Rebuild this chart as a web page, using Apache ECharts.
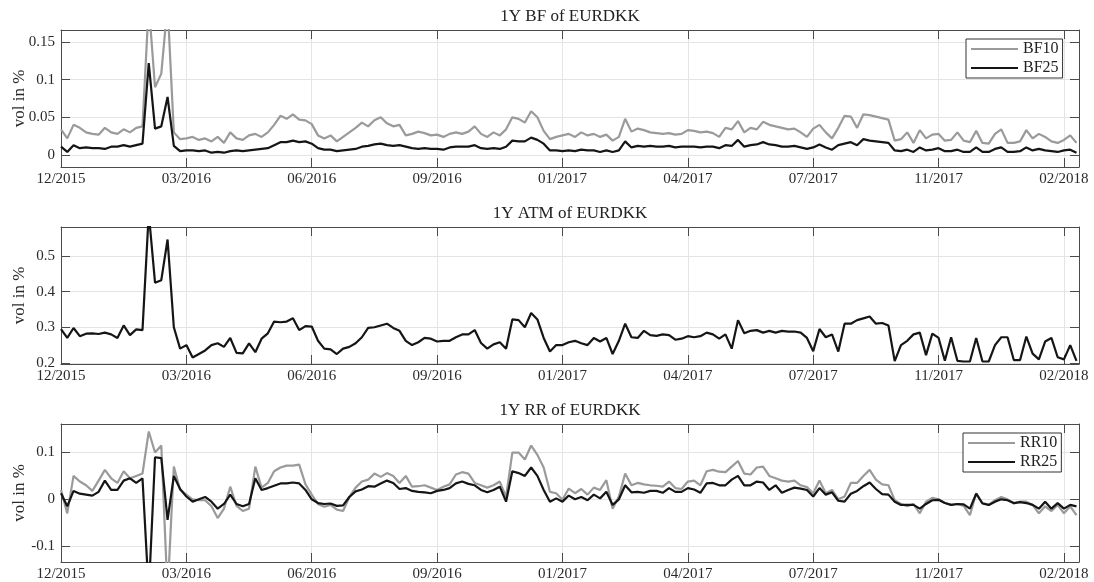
<!DOCTYPE html>
<html>
<head>
<meta charset="utf-8">
<script src="https://cdn.jsdelivr.net/npm/echarts@6/dist/echarts.min.js"></script>
<style>
  html, body { margin: 0; padding: 0; background: #ffffff; }
  #chart { width: 1094px; height: 582px; }
</style>
</head>
<body>
<div id="chart"></div>
<script>
// Date labels placed every 20 observations along the shared time index
const tickLabels = ['12/2015', '03/2016', '06/2016', '09/2016', '01/2017', '04/2017', '07/2017', '11/2017', '02/2018'];

// 1Y butterfly vols (vol in %)
const bf10 = [
  0.034,0.022,0.040,0.036,0.030,0.028,0.027,0.036,0.030,0.028,
  0.034,0.030,0.036,0.038,0.200,0.090,0.108,0.200,0.030,0.021,
  0.022,0.024,0.020,0.022,0.018,0.024,0.016,0.030,0.022,0.020,
  0.026,0.028,0.024,0.030,0.040,0.052,0.048,0.054,0.047,0.046,
  0.041,0.026,0.022,0.026,0.018,0.024,0.030,0.036,0.043,0.038,
  0.046,0.050,0.042,0.038,0.040,0.026,0.028,0.031,0.029,0.026,
  0.027,0.024,0.028,0.030,0.028,0.031,0.038,0.028,0.024,0.030,
  0.026,0.034,0.050,0.048,0.043,0.058,0.050,0.032,0.021,0.024,
  0.026,0.028,0.024,0.030,0.026,0.028,0.024,0.027,0.019,0.024,
  0.048,0.031,0.035,0.033,0.030,0.029,0.028,0.029,0.027,0.028,
  0.033,0.032,0.030,0.031,0.029,0.024,0.036,0.034,0.045,0.030,
  0.036,0.034,0.044,0.040,0.038,0.036,0.034,0.035,0.030,0.024,
  0.035,0.040,0.030,0.022,0.036,0.052,0.051,0.036,0.054,0.053,
  0.051,0.049,0.047,0.019,0.021,0.030,0.016,0.033,0.022,0.027,
  0.028,0.019,0.020,0.030,0.019,0.017,0.032,0.016,0.015,0.028,
  0.034,0.016,0.016,0.018,0.033,0.022,0.028,0.024,0.018,0.016,
  0.020,0.026,0.016
];
const bf25 = [
  0.011,0.004,0.013,0.009,0.010,0.009,0.009,0.008,0.011,0.011,
  0.013,0.011,0.013,0.015,0.122,0.035,0.038,0.077,0.012,0.005,
  0.006,0.006,0.005,0.006,0.003,0.004,0.003,0.005,0.006,0.005,
  0.006,0.007,0.008,0.009,0.013,0.017,0.017,0.019,0.017,0.018,
  0.015,0.009,0.007,0.007,0.005,0.006,0.007,0.008,0.011,0.012,
  0.014,0.015,0.013,0.012,0.013,0.011,0.009,0.008,0.009,0.008,
  0.008,0.007,0.010,0.011,0.011,0.011,0.013,0.009,0.008,0.009,
  0.008,0.011,0.019,0.018,0.018,0.023,0.020,0.015,0.006,0.006,
  0.005,0.006,0.005,0.007,0.006,0.006,0.004,0.006,0.004,0.006,
  0.018,0.010,0.012,0.011,0.012,0.011,0.011,0.012,0.010,0.011,
  0.011,0.011,0.010,0.011,0.011,0.009,0.013,0.012,0.020,0.011,
  0.013,0.014,0.017,0.014,0.013,0.011,0.011,0.012,0.010,0.008,
  0.010,0.014,0.010,0.007,0.013,0.015,0.017,0.013,0.021,0.019,
  0.018,0.017,0.016,0.006,0.005,0.007,0.004,0.010,0.006,0.007,
  0.009,0.005,0.005,0.007,0.004,0.004,0.010,0.004,0.004,0.008,
  0.010,0.004,0.004,0.005,0.010,0.006,0.008,0.006,0.005,0.004,
  0.006,0.007,0.003
];

// 1Y at-the-money vol (vol in %)
const atm = [
  0.295,0.270,0.298,0.275,0.282,0.283,0.281,0.285,0.280,0.270,
  0.305,0.278,0.294,0.292,0.620,0.425,0.432,0.546,0.300,0.240,
  0.250,0.215,0.225,0.235,0.250,0.255,0.245,0.270,0.228,0.227,
  0.255,0.230,0.268,0.283,0.316,0.314,0.316,0.325,0.292,0.303,
  0.302,0.262,0.240,0.238,0.225,0.240,0.245,0.255,0.272,0.298,
  0.300,0.305,0.310,0.298,0.290,0.262,0.250,0.258,0.270,0.268,
  0.260,0.262,0.262,0.272,0.280,0.280,0.292,0.256,0.240,0.252,
  0.258,0.240,0.322,0.320,0.300,0.340,0.322,0.270,0.232,0.250,
  0.250,0.258,0.262,0.255,0.250,0.270,0.260,0.270,0.225,0.262,
  0.310,0.272,0.270,0.290,0.278,0.276,0.280,0.278,0.265,0.268,
  0.275,0.272,0.275,0.285,0.280,0.268,0.280,0.240,0.320,0.283,
  0.290,0.292,0.285,0.290,0.285,0.290,0.288,0.288,0.285,0.270,
  0.233,0.295,0.272,0.280,0.232,0.310,0.310,0.320,0.325,0.330,
  0.310,0.312,0.305,0.205,0.250,0.262,0.280,0.285,0.222,0.282,
  0.270,0.206,0.272,0.206,0.204,0.204,0.270,0.204,0.204,0.250,
  0.272,0.272,0.208,0.208,0.274,0.226,0.210,0.260,0.270,0.216,
  0.210,0.250,0.206
];

// 1Y risk reversals (vol in %)
const rr10 = [
  0.020,-0.030,0.050,0.038,0.030,0.018,0.040,0.063,0.045,0.035,
  0.060,0.045,0.050,0.055,0.145,0.100,0.115,-0.200,0.070,0.020,
  0.010,0.000,-0.002,-0.002,-0.015,-0.040,-0.020,0.027,-0.014,-0.025,
  -0.020,0.070,0.025,0.035,0.060,0.068,0.072,0.072,0.074,0.032,
  0.010,-0.010,-0.016,-0.012,-0.022,-0.025,0.005,0.025,0.038,0.042,
  0.055,0.048,0.056,0.050,0.035,0.050,0.027,0.028,0.030,0.025,
  0.020,0.027,0.032,0.053,0.058,0.055,0.035,0.030,0.025,0.030,
  0.038,0.005,0.100,0.100,0.085,0.115,0.095,0.068,0.016,0.013,
  -0.001,0.023,0.013,0.022,0.010,0.025,0.020,0.041,-0.020,0.006,
  0.055,0.030,0.035,0.032,0.030,0.029,0.027,0.038,0.024,0.022,
  0.038,0.040,0.030,0.060,0.063,0.059,0.058,0.070,0.082,0.055,
  0.053,0.068,0.070,0.050,0.045,0.040,0.038,0.040,0.030,0.026,
  0.013,0.040,0.013,0.020,0.000,0.006,0.035,0.035,0.050,0.063,
  0.042,0.032,0.030,-0.002,-0.010,-0.015,-0.010,-0.030,-0.005,0.003,
  0.000,-0.008,-0.012,-0.010,-0.014,-0.034,0.013,-0.008,-0.012,-0.002,
  0.005,0.000,-0.009,-0.005,-0.005,-0.012,-0.030,-0.015,-0.025,-0.012,
  -0.030,-0.015,-0.034
];
const rr25 = [
  0.013,-0.015,0.018,0.012,0.010,0.008,0.016,0.040,0.020,0.020,
  0.040,0.045,0.035,0.045,-0.200,0.090,0.088,-0.044,0.050,0.022,
  0.006,-0.005,0.000,0.005,-0.005,-0.020,-0.010,0.010,-0.010,-0.015,
  -0.010,0.045,0.020,0.024,0.029,0.034,0.034,0.036,0.034,0.020,
  0.000,-0.008,-0.010,-0.009,-0.014,-0.013,0.005,0.017,0.021,0.028,
  0.027,0.034,0.040,0.035,0.022,0.024,0.018,0.016,0.015,0.013,
  0.018,0.020,0.024,0.034,0.038,0.033,0.030,0.020,0.015,0.020,
  0.027,-0.005,0.060,0.056,0.050,0.068,0.050,0.020,-0.005,0.002,
  -0.005,0.008,0.000,0.005,-0.002,0.010,0.002,0.016,-0.012,0.000,
  0.030,0.015,0.016,0.014,0.018,0.018,0.014,0.024,0.016,0.016,
  0.024,0.021,0.014,0.034,0.035,0.030,0.030,0.042,0.050,0.030,
  0.030,0.038,0.036,0.020,0.030,0.014,0.020,0.025,0.023,0.020,
  0.006,0.024,0.010,0.015,-0.003,-0.005,0.012,0.018,0.028,0.036,
  0.022,0.011,0.010,-0.005,-0.012,-0.012,-0.012,-0.020,-0.010,-0.002,
  -0.001,-0.008,-0.012,-0.010,-0.011,-0.020,0.012,-0.009,-0.012,-0.005,
  0.000,-0.002,-0.008,-0.006,-0.008,-0.012,-0.020,-0.005,-0.020,-0.008,
  -0.020,-0.012,-0.015
];

const FONT = '"Liberation Serif", "Times New Roman", serif';
const AXIS_COLOR = '#4a4a4a';
const GRID_COLOR = '#e4e4e4';
const GRAY = '#9a9a9a';
const BLACK = '#151515';
const X_STEP = 20;
const X_MAX = 162.4;

// Layout of the three stacked panels
const panels = [
  { title: '1Y BF of EURDKK', top: 30, height: 137, min: -0.016, max: 0.166, split: 4, step: 0.05,
    lines: [['BF10', bf10, GRAY], ['BF25', bf25, BLACK]], legendPos: { left: 966, top: 39 } },
  { title: '1Y ATM of EURDKK', top: 227, height: 137, min: 0.197, max: 0.581, split: 4, step: 0.1,
    lines: [['ATM', atm, BLACK]] },
  { title: '1Y RR of EURDKK', top: 424, height: 138, min: -0.134, max: 0.161, split: 3, step: 0.1,
    lines: [['RR10', rr10, GRAY], ['RR25', rr25, BLACK]], legendPos: { left: 963, top: 433 } }
];

const onStep = (v, step) => Math.abs(v / step - Math.round(v / step)) < 1e-6;

const grid = [], xAxis = [], yAxis = [], title = [], series = [], legend = [];

panels.forEach((p, k) => {
  grid.push({
    left: 61, width: 1018, top: p.top, height: p.height, show: false,
    containLabel: false, outerBoundsMode: 'none'
  });

  title.push({
    text: p.title, left: 570, top: p.top - 22, textAlign: 'center', padding: 0,
    textStyle: { fontFamily: FONT, fontSize: 17, fontWeight: 'normal', color: '#222' }
  });

  const tick = { show: true, inside: true, length: 9, lineStyle: { color: AXIS_COLOR, width: 1 } };
  const line = { show: true, onZero: false, lineStyle: { color: AXIS_COLOR, width: 1 } };

  // bottom axis with date labels, top axis mirrors the tick marks
  xAxis.push({
    gridIndex: k, type: 'value', position: 'bottom', min: 0, max: X_MAX, interval: X_STEP,
    axisLine: line, axisTick: tick,
    axisLabel: {
      margin: 5, fontFamily: FONT, fontSize: 15, color: '#2a2a2a', hideOverlap: false,
      formatter: v => onStep(v, X_STEP) ? (tickLabels[Math.round(v / X_STEP)] || '') : ''
    },
    splitLine: { show: true, lineStyle: { color: GRID_COLOR, width: 1 } }
  });
  xAxis.push({
    gridIndex: k, type: 'value', position: 'top', min: 0, max: X_MAX, interval: X_STEP,
    axisLine: line, axisTick: tick, axisLabel: { show: false }, splitLine: { show: false }
  });

  // left axis with values, right axis mirrors the tick marks
  yAxis.push({
    gridIndex: k, type: 'value', position: 'left', min: p.min, max: p.max, splitNumber: p.split,
    name: 'vol in %', nameLocation: 'middle', nameGap: 33, nameMoveOverlap: false,
    nameTextStyle: { fontFamily: FONT, fontSize: 17, color: '#2a2a2a' },
    axisLine: line, axisTick: tick,
    axisLabel: {
      margin: 6, fontFamily: FONT, fontSize: 15, color: '#2a2a2a',
      formatter: v => onStep(v, p.step) ? String(+v.toFixed(3)) : ''
    },
    splitLine: { show: true, lineStyle: { color: GRID_COLOR, width: 1 } }
  });
  yAxis.push({
    gridIndex: k, type: 'value', position: 'right', min: p.min, max: p.max, splitNumber: p.split,
    axisLine: line, axisTick: tick, axisLabel: { show: false }, splitLine: { show: false }
  });

  p.lines.forEach(([name, values, color], j) => {
    series.push({
      name, type: 'line', xAxisIndex: 2 * k, yAxisIndex: 2 * k,
      data: values.map((v, i) => [i, v]),
      showSymbol: false, symbol: 'none', clip: true, z: 2 + j,
      color, lineStyle: { color, width: 2.2 },
      emphasis: { disabled: true }
    });
  });

  if (p.legendPos) {
    legend.push({
      data: p.lines.map(l => ({ name: l[0], icon: 'rect' })),
      left: p.legendPos.left, top: p.legendPos.top, orient: 'vertical',
      itemWidth: 47, itemHeight: 2, itemGap: 3,
      padding: [2, 4, 2, 5],
      backgroundColor: '#ffffff', borderColor: '#333', borderWidth: 1, borderRadius: 0,
      selectedMode: false,
      textStyle: { fontFamily: FONT, fontSize: 16, color: '#222' }
    });
  }
});

const chart = echarts.init(document.getElementById('chart'), null, { renderer: 'canvas' });
chart.setOption({
  backgroundColor: '#ffffff',
  animation: false,
  title, grid, xAxis, yAxis, legend, series
});
</script>
</body>
</html>
